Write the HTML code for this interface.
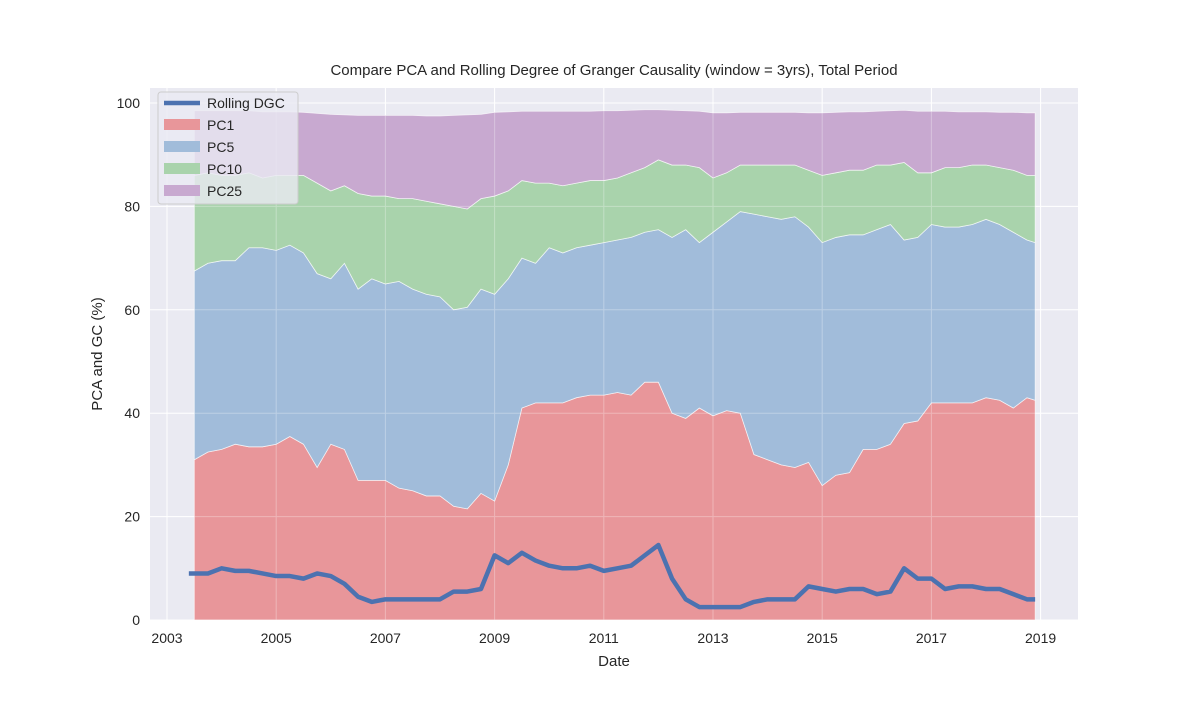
<!DOCTYPE html>
<html><head><meta charset="utf-8"><style>
body{margin:0;background:#fff;}
svg text{font-family:"Liberation Sans",sans-serif;fill:#262626;}
</style></head><body>
<svg id="chart" width="1200" height="697">
<rect x="150" y="88" width="928" height="532" fill="#eaeaf2"/>
<g id="grid"></g><g id="areas"></g><g id="grid2" opacity="0.3"></g><g id="line"></g><g id="ticks"></g>
<text x="614" y="75" text-anchor="middle" font-size="15">Compare PCA and Rolling Degree of Granger Causality (window = 3yrs), Total Period</text>
<text x="614" y="666" text-anchor="middle" font-size="15">Date</text>
<text x="102" y="354" text-anchor="middle" font-size="15" transform="rotate(-90 102 354)">PCA and GC (%)</text>
<g>
<rect x="158" y="92" width="140" height="112" rx="3" fill="#eaeaf2" fill-opacity="0.8" stroke="#ccc"/>
<g><line x1="164" y1="103" x2="200" y2="103" stroke="#4c72b0" stroke-width="4.5"/><text x="207" y="108" font-size="14">Rolling DGC</text></g>
<g><rect x="164" y="119" width="36" height="11" fill="#e8969a"/><text x="207" y="130" font-size="14">PC1</text></g>
<g><rect x="164" y="141" width="36" height="11" fill="#a1bcda"/><text x="207" y="152" font-size="14">PC5</text></g>
<g><rect x="164" y="163" width="36" height="11" fill="#a9d3ac"/><text x="207" y="174" font-size="14">PC10</text></g>
<g><rect x="164" y="185" width="36" height="11" fill="#c8a9d0"/><text x="207" y="196" font-size="14">PC25</text></g>
</g>
</svg>
<script>
const dates=[2003.5,2003.75,2004,2004.25,2004.5,2004.75,2005,2005.25,2005.5,2005.75,2006,2006.25,2006.5,2006.75,2007,2007.25,2007.5,2007.75,2008,2008.25,2008.5,2008.75,2009,2009.25,2009.5,2009.75,2010,2010.25,2010.5,2010.75,2011,2011.25,2011.5,2011.75,2012,2012.25,2012.5,2012.75,2013,2013.25,2013.5,2013.75,2014,2014.25,2014.5,2014.75,2015,2015.25,2015.5,2015.75,2016,2016.25,2016.5,2016.75,2017,2017.25,2017.5,2017.75,2018,2018.25,2018.5,2018.75,2018.9];
const pc1=[31,32.5,33,34,33.5,33.5,34,35.5,34,29.5,34,33,27,27,27,25.5,25,24,24,22,21.5,24.5,23,30,41,42,42,42,43,43.5,43.5,44,43.5,46,46,40,39,41,39.5,40.5,40,32,31,30,29.5,30.5,26,28,28.5,33,33,34,38,38.5,42,42,42,42,43,42.5,41,43,42.5];
const pc5=[67.5,69,69.5,69.5,72,72,71.5,72.5,71,67,66,69,64,66,65,65.5,64,63,62.5,60,60.5,64,63,66,70,69,72,71,72,72.5,73,73.5,74,75,75.5,74,75.5,73,75,77,79,78.5,78,77.5,78,76,73,74,74.5,74.5,75.5,76.5,73.5,74,76.5,76,76,76.5,77.5,76.5,75,73.5,73];
const pc10=[86,86.5,86,86,86.5,85.5,86,86,86,84.5,83,84,82.5,82,82,81.5,81.5,81,80.5,80,79.5,81.5,82,83,85,84.5,84.5,84,84.5,85,85,85.5,86.5,87.5,89,88,88,87.5,85.5,86.5,88,88,88,88,88,87,86,86.5,87,87,88,88,88.5,86.5,86.5,87.5,87.5,88,88,87.5,87,86,86];
const pc25=[98.5,98.5,98.5,98.5,98.5,98.3,98.3,98.3,98.2,98,97.8,97.7,97.6,97.6,97.6,97.6,97.6,97.5,97.5,97.6,97.7,97.8,98.2,98.3,98.4,98.4,98.4,98.4,98.4,98.4,98.5,98.5,98.6,98.7,98.7,98.6,98.5,98.4,98.1,98.1,98.2,98.2,98.2,98.2,98.2,98.1,98.1,98.2,98.3,98.3,98.4,98.5,98.6,98.4,98.4,98.4,98.3,98.3,98.3,98.2,98.2,98.1,98.1];
const dgc=[9,9,10,9.5,9.5,9,8.5,8.5,8,9,8.5,7,4.5,3.5,4,4,4,4,4,5.5,5.5,6,12.5,11,13,11.5,10.5,10,10,10.5,9.5,10,10.5,12.5,14.5,8,4,2.5,2.5,2.5,2.5,3.5,4,4,4,6.5,6,5.5,6,6,5,5.5,10,8,8,6,6.5,6.5,6,6,5,4,4];
const yTicks=[0,20,40,60,80,100];
const xTicks=[2003,2005,2007,2009,2011,2013,2015,2017,2019];
const NS='http://www.w3.org/2000/svg';
const X=d=>167+(d-2003)*54.6;
const Y=v=>620-v*5.17;
function mk(tag,attrs,parent){const e=document.createElementNS(NS,tag);for(const k in attrs)e.setAttribute(k,attrs[k]);document.getElementById(parent).appendChild(e);return e;}
yTicks.forEach(t=>{
 ['grid','grid2'].forEach(gid=>{
 const g=mk('line',{x1:150,x2:1078,y1:Y(t),y2:Y(t),stroke:'#fff','stroke-width':1},gid);
 
 
 });
 const tx=mk('text',{x:140,y:Y(t)+5,'text-anchor':'end','font-size':14},'ticks');tx.textContent=t;
 
 
});
xTicks.forEach(t=>{
 ['grid','grid2'].forEach(gid=>{
 const g=mk('line',{x1:X(t),x2:X(t),y1:88,y2:620,stroke:'#fff','stroke-width':1},gid);
 
 
 });
 const tx=mk('text',{x:X(t),y:643,'text-anchor':'middle','font-size':14},'ticks');tx.textContent=t;
 
 
});
const layers=[[null,pc1,'#e8969a','area-pc1'],[pc1,pc5,'#a1bcda','area-pc5'],[pc5,pc10,'#a9d3ac','area-pc10'],[pc10,pc25,'#c8a9d0','area-pc25']];
layers.forEach(([lo,hi,c,n])=>{
 let d='';dates.forEach((dt,i)=>{d+=(i?'L':'M')+X(dt)+','+Y(hi[i]);});
 for(let i=dates.length-1;i>=0;i--)d+='L'+X(dates[i])+','+Y(lo?lo[i]:0);
 const p=mk('path',{d:d+'Z',fill:c,stroke:'#fff','stroke-width':0.8,'stroke-opacity':0.7},'areas');
 
 
});
let ld='';dates.forEach((dt,i)=>{ld+=(i?'L':'M')+X(dt)+','+Y(dgc[i]);});
ld='M'+X(2003.4)+','+Y(dgc[0])+ld.replace('M','L');
const ln=mk('path',{d:ld,fill:'none',stroke:'#4c72b0','stroke-width':4.5,'stroke-linejoin':'round'},'line');


</script>
</body></html>
